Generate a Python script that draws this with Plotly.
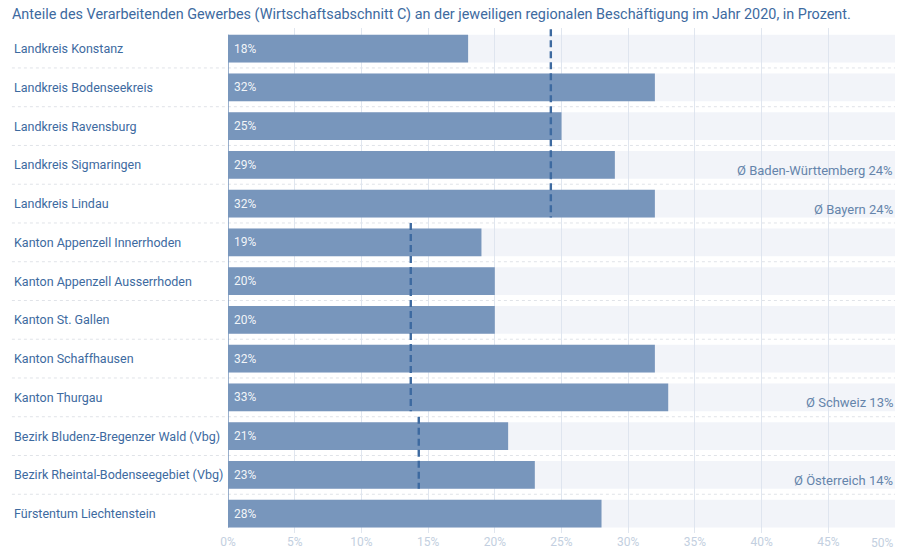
import plotly.graph_objects as go

regionen = [
    "Landkreis Konstanz",
    "Landkreis Bodenseekreis",
    "Landkreis Ravensburg",
    "Landkreis Sigmaringen",
    "Landkreis Lindau",
    "Kanton Appenzell Innerrhoden",
    "Kanton Appenzell Ausserrhoden",
    "Kanton St. Gallen",
    "Kanton Schaffhausen",
    "Kanton Thurgau",
    "Bezirk Bludenz-Bregenzer Wald (Vbg)",
    "Bezirk Rheintal-Bodenseegebiet (Vbg)",
    "Fürstentum Liechtenstein",
]
anteile = [18, 32, 25, 29, 32, 19, 20, 20, 32, 33, 21, 23, 28]

# Durchschnittslinien: Wert, erste Zeile, letzte Zeile
schnitt_werte = [24.2, 13.7, 14.3]
schnitt_von = [0, 5, 10]
schnitt_bis = [4, 9, 11]

# Beschriftungen rechts
schnitt_texte = ["Ø Baden-Württemberg 24%", "Ø Bayern 24%", "Ø Schweiz 13%", "Ø Österreich 14%"]
schnitt_text_zeile = [3, 4, 9, 11]

x_max = 50
ticks = list(range(0, 55, 5))

BAR = "#7896bc"
DUNKEL = "#3d6aa0"
TICK = "#c3cfe0"
FONT = "Roboto"
bw = 0.72

fig = go.Figure()

# heller Hintergrundbalken bis 50 %
fig.add_trace(go.Bar(
    y=regionen, x=[x_max] * len(regionen), orientation="h",
    marker=dict(color="rgba(222,228,240,0.4)", line=dict(width=0)),
    width=bw, hoverinfo="skip", showlegend=False,
))

fig.add_trace(go.Bar(
    y=regionen, x=anteile, orientation="h",
    marker=dict(color=BAR, line=dict(width=0)),
    width=bw,
    text=[f"\u00a0{v}%" for v in anteile],
    textposition="inside", insidetextanchor="start",
    textfont=dict(family=FONT, size=12, color="rgba(255,255,255,0.92)"),
    showlegend=False,
))

shapes = []
# gepunktete Trennlinien zwischen den Zeilen
for i in range(len(regionen) - 1):
    shapes.append(dict(
        type="line", xref="x domain", yref="y",
        x0=-0.324, x1=1, y0=i + 0.5, y1=i + 0.5,
        line=dict(color="#e0e3e8", width=1, dash="dot"), layer="below",
    ))
# Achsenlinie links
shapes.append(dict(
    type="line", xref="x", yref="y", x0=0, x1=0,
    y0=-bw / 2, y1=len(regionen) - 1 + bw / 2,
    line=dict(color=BAR, width=1.5),
))
# gestrichelte Durchschnittslinien
for w, a, b in zip(schnitt_werte, schnitt_von, schnitt_bis):
    shapes.append(dict(
        type="line", xref="x", yref="y", x0=w, x1=w,
        y0=a - 0.5, y1=b + bw / 2,
        line=dict(color=DUNKEL, width=2.4, dash="7px,4px"),
    ))

annotations = []
for r in regionen:
    annotations.append(dict(
        x=-0.324, xref="x domain", y=r, yref="y", text=r,
        xanchor="left", yanchor="middle", showarrow=False,
        font=dict(family=FONT, size=12.5, color=DUNKEL),
    ))
for t, z in zip(schnitt_texte, schnitt_text_zeile):
    annotations.append(dict(
        x=1, xref="x domain", y=z + 0.14, yref="y", text=t,
        xanchor="right", yanchor="middle", showarrow=False,
        font=dict(family=FONT, size=13, color="#6584ab"),
    ))
# letzte Achsenbeschriftung rechtsbündig, damit sie im Bild bleibt
annotations.append(dict(
    x=ticks[-1], xref="x", y=0, yref="y domain", yshift=-1,
    text=f"{ticks[-1]}%", xanchor="right", yanchor="top", showarrow=False,
    font=dict(family=FONT, size=12, color=TICK),
))

fig.update_layout(
    width=902, height=551,
    barmode="overlay", bargap=0.28,
    title=dict(
        text="Anteile des Verarbeitenden Gewerbes (Wirtschaftsabschnitt C) an der jeweiligen regionalen Beschäftigung im Jahr 2020, in Prozent.",
        x=0.0133, xanchor="left", y=0.975, yanchor="middle",
        font=dict(family=FONT, size=14.4, color=DUNKEL),
    ),
    xaxis=dict(
        range=[0, x_max], tickvals=ticks,
        ticktext=[f"{t}%" for t in ticks[:-1]] + [""],
        showgrid=True, gridcolor="#e0e6ef", gridwidth=1,
        zeroline=False, showline=False, fixedrange=True, automargin=False,
        tickfont=dict(family=FONT, size=12, color=TICK),
    ),
    yaxis=dict(
        autorange="reversed", showticklabels=False, showgrid=False,
        zeroline=False, showline=False, fixedrange=True, automargin=False,
    ),
    shapes=shapes,
    annotations=annotations,
    plot_bgcolor="white",
    paper_bgcolor="white",
    margin=dict(t=28, b=18, l=228, r=7),
    font=dict(family=FONT),
)

# Seitenrand entfernen, damit die Grafik genau ins Fenster passt
fig.write_html(
    "out.html",
    config={"displayModeBar": False},
    post_script="document.body.style.margin='0';",
)
